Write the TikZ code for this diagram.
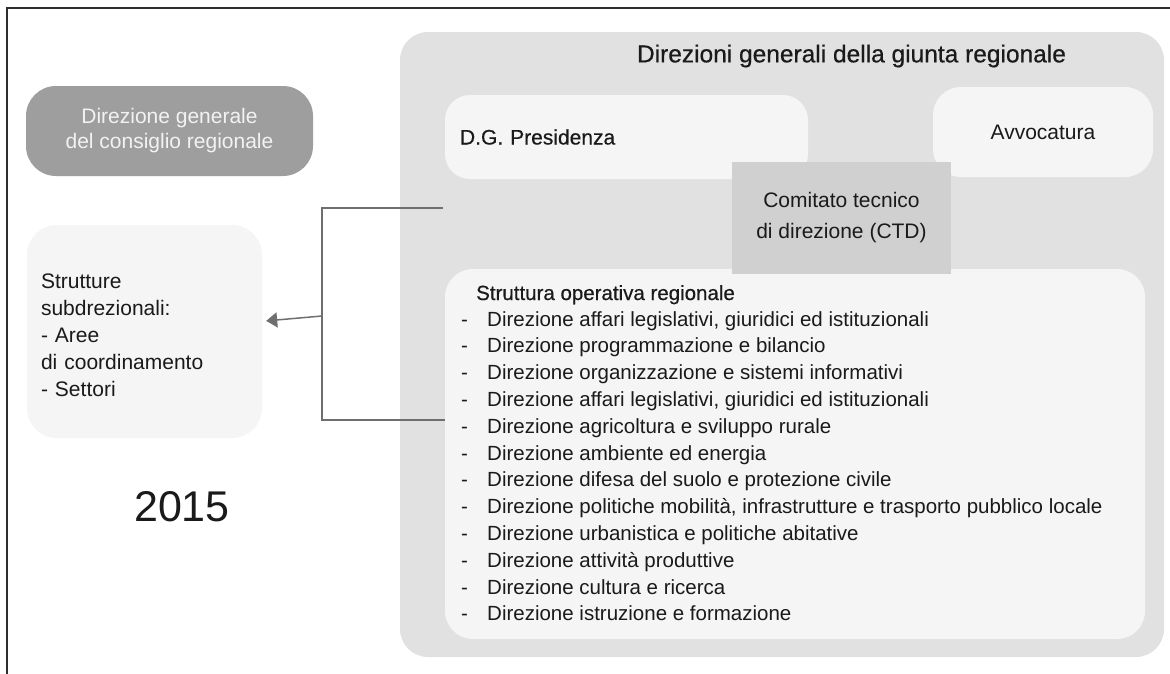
\documentclass[tikz,border=0pt]{standalone}
\usepackage{fontspec}
\setmainfont{Liberation Sans}
\newfontfamily\medfont{Liberation Sans}[FakeBold=0.5]
\usetikzlibrary{arrows.meta}
\definecolor{bigbg}{HTML}{E1E1E1}
\definecolor{lightbg}{HTML}{F5F5F5}
\definecolor{darkbg}{HTML}{9E9E9E}
\definecolor{ctdbg}{HTML}{D0D0D0}
\definecolor{conncol}{HTML}{6F6F6F}
\definecolor{framecol}{HTML}{2E2E2E}
\definecolor{txt}{HTML}{1A1A1A}
\begin{document}
\begin{tikzpicture}[x=1pt,y=-1pt,
  panel/.style={fill=lightbg, rounded corners=28pt, inner sep=7pt, text=txt},
  outerpanel/.style={fill=bigbg, rounded corners=28pt, inner sep=0pt},
  darkpanel/.style={fill=darkbg, rounded corners=30pt, inner sep=7pt, text=white!95!black},
  ctdpanel/.style={fill=ctdbg, inner sep=7pt, text=txt},
  bodyfont/.style={font=\fontsize{21}{25}\selectfont},
  itemfont/.style={font=\fontsize{20.5}{24}\selectfont, text=txt, inner sep=0pt},
  medtext/.style={text=txt},
  conn/.style={draw=conncol, line width=1.5pt},
  frameline/.style={draw=framecol, line width=2pt}
]
\useasboundingbox (0,0) rectangle (1170,673);
\fill[white] (0,0) rectangle (1170,673);
\draw[frameline] (7,680) -- (7,8) -- (1180,8);

% outer panel
\node[outerpanel, minimum width=764pt, minimum height=625pt] (gbox) at (782,344.5) {};
\node[medtext, font=\medfont\fontsize{24.5}{29}\selectfont] (title) at (851.5,56) {Direzioni generali della giunta regionale};

% left boxes
\node[darkpanel, bodyfont, align=center, minimum width=287pt, minimum height=90pt] (dgc) at (169.5,131) {Direzione generale\\del consiglio regionale};
\node[panel, rounded corners=30pt, minimum width=235pt, minimum height=213pt] (sub) at (144.5,331.5) {};
\node[font=\fontsize{21}{27}\selectfont, text=txt, text width=207pt, align=left, inner sep=0pt] (subtext) at (144.5,335) {Strutture\\subdrezionali:\\- Aree\\di coordinamento\\- Settori};
\node[font=\fontsize{43}{50}\selectfont, text=txt] (year) at (182,507) {2015};

% inner panels
\node[panel, rounded corners=25pt, font=\medfont\fontsize{21}{25}\selectfont, text width=333pt, align=left, minimum width=363pt, minimum height=84pt] (dgp) at (626.5,137) {D.G. Presidenza};
\node[panel, bodyfont, minimum width=220pt, minimum height=90pt] (avv) at (1043,132) {Avvocatura};
\node[panel, minimum width=700pt, minimum height=370pt] (str) at (795,454) {};
\node[ctdpanel, font=\fontsize{21}{31}\selectfont, align=center, minimum width=219pt, minimum height=112pt] (ctd) at (841.5,218) {Comitato tecnico\\di direzione (CTD)};

% list
\node[itemfont, font=\medfont\fontsize{20.5}{24}\selectfont, anchor=base west] (hdr) at (476,300) {Struttura operativa regionale};
\foreach \t [count=\i] in {
  {Direzione affari legislativi, giuridici ed istituzionali},
  {Direzione programmazione e bilancio},
  {Direzione organizzazione e sistemi informativi},
  {Direzione affari legislativi, giuridici ed istituzionali},
  {Direzione agricoltura e sviluppo rurale},
  {Direzione ambiente ed energia},
  {Direzione difesa del suolo e protezione civile},
  {Direzione politiche mobilità, infrastrutture e trasporto pubblico locale},
  {Direzione urbanistica e politiche abitative},
  {Direzione attività produttive},
  {Direzione cultura e ricerca},
  {Direzione istruzione e formazione}} {
  \node[itemfont, anchor=base west] (dash\i) at (461,{326+(\i-1)*26.8}) {-};
  \node[itemfont, anchor=base west] (item\i) at (487,{326+(\i-1)*26.8}) {\t};
}

% connector bracket and arrow
\coordinate (bt) at (443,208);
\coordinate (bb) at (str.west |- 0,420);
\coordinate (jn) at (322,316);
\draw[conn] (bt) -| (jn) |- (bb);
\draw[conn, -{Triangle[length=11pt,width=15pt]}, shorten >=4pt] (jn) -- (sub);
\end{tikzpicture}
\end{document}
